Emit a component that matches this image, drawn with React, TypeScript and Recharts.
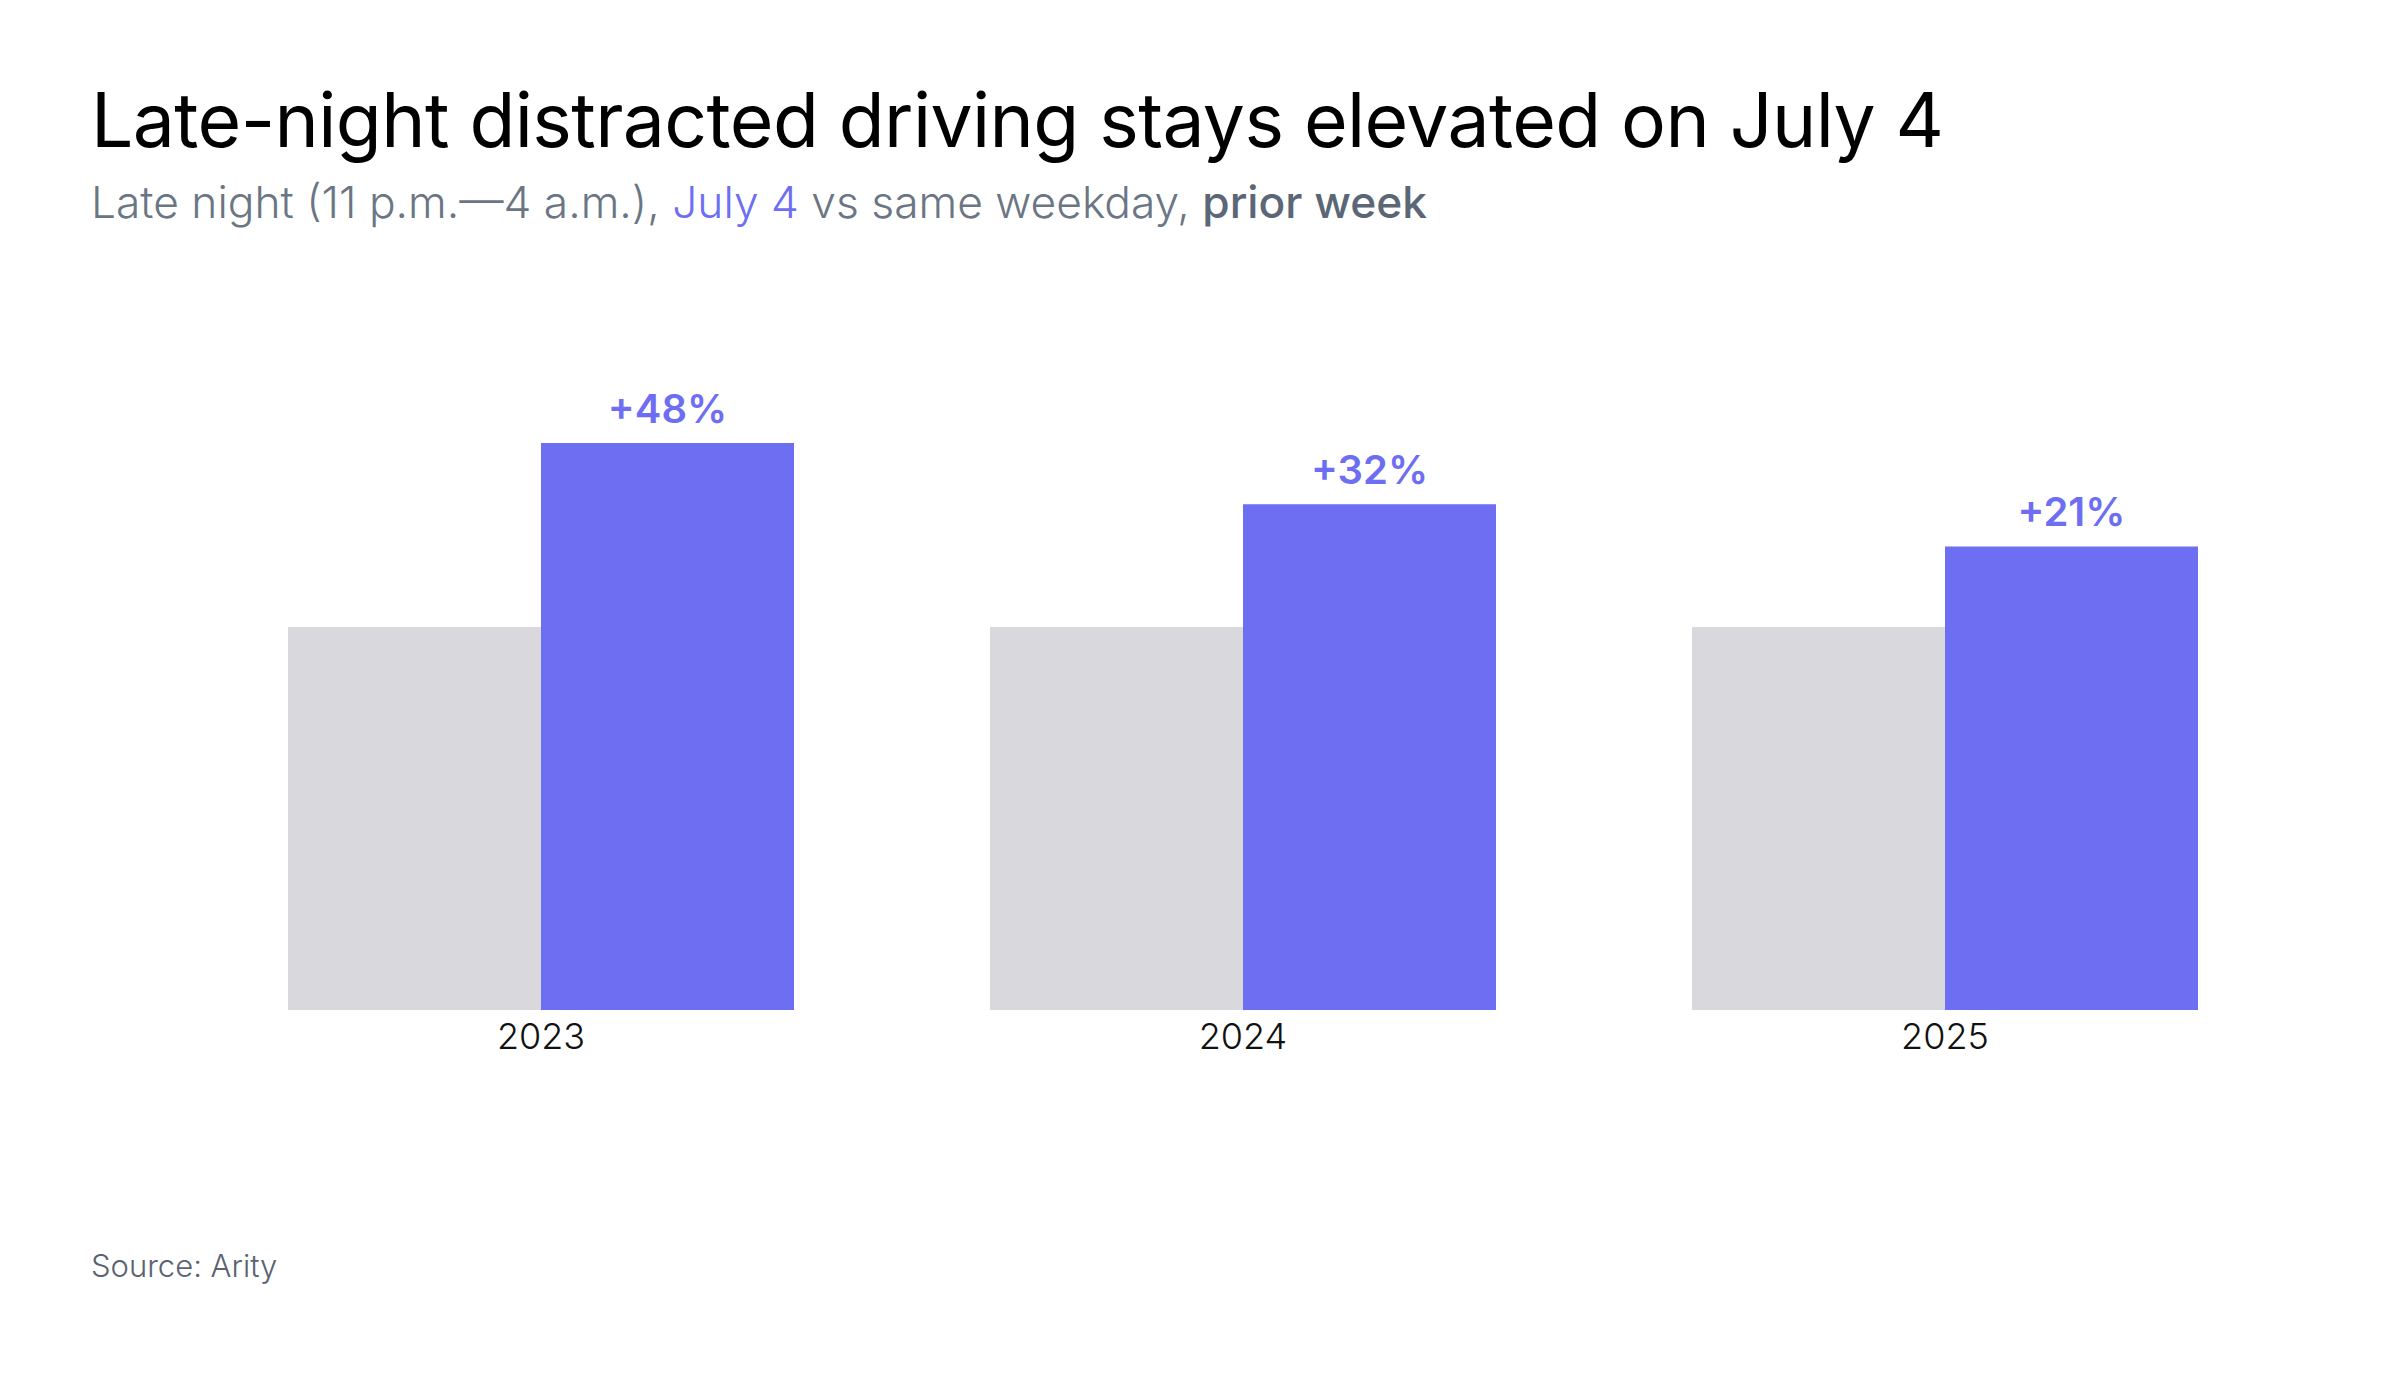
import React from "react";
import { BarChart, Bar, XAxis, YAxis, LabelList } from "recharts";

// Late-night distracted driving index: prior-week baseline = 100
const years = ["2023", "2024", "2025"];
const priorWeek = [100, 100, 100];
const july4 = [148, 132, 121];

const data = years.map((year, i) => ({ year, prior: priorWeek[i], july4: july4[i] }));

const W = 2381;
const H = 1375;
const GRAY = "#d9d8dd";
const PURPLE = "#6e6ef3";
const SUB = "#6b7684";
const FONT = "Inter, 'Noto Sans', sans-serif";

const YearTick = (props: any) => {
  const { x, y, payload } = props;
  return (
    <text x={x} y={y + 39} textAnchor="middle" fill="#111" fontFamily={FONT} fontSize={36} fontWeight={350}>
      {payload.value}
    </text>
  );
};

const ChangeLabel = (props: any) => {
  const { x, y, width, value } = props;
  const pct = Math.round(Number(value) - 100);
  return (
    <text x={x + width / 2} y={y - 20} textAnchor="middle" fill={PURPLE} fontFamily={FONT} fontSize={40} fontWeight={600}>
      {`+${pct}%`}
    </text>
  );
};

export default function App() {
  return (
    <div style={{ position: "absolute", left: 0, top: 0, width: W, height: H, background: "#fff", overflow: "hidden" }}>
      <svg width={W} height={H} style={{ position: "absolute", left: 0, top: 0 }}>
        <text x={91} y={147} fontFamily={FONT} fontSize={75} fontWeight={400} letterSpacing={-0.6} fill="#000">
          Late-night distracted driving stays elevated on July 4
        </text>
        <text x={91} y={218} fontFamily={FONT} fontSize={44.3} fontWeight={350} fill={SUB}>
          Late night (11 p.m.—4 a.m.), <tspan fill={PURPLE}>July 4</tspan> vs same weekday,{" "}
          <tspan fill="#5b6777" fontWeight={500}>prior week</tspan>
        </text>
        <text x={91} y={1277} fontFamily={FONT} fontSize={31} fontWeight={350} fill="#5b6272">
          Source: Arity
        </text>
      </svg>
      <div style={{ position: "absolute", left: 0, top: 0 }}>
        <BarChart width={W} height={H} data={data} margin={{ top: 397, right: 85, bottom: 305, left: 190 }} barGap={0} barSize={253}>
          <XAxis dataKey="year" axisLine={false} tickLine={false} tickSize={0} tickMargin={0} height={60} tick={<YearTick />} interval={0} />
          <YAxis hide domain={[0, 160]} />
          <Bar dataKey="prior" fill={GRAY} isAnimationActive={false} />
          <Bar dataKey="july4" fill={PURPLE} isAnimationActive={false}>
            <LabelList dataKey="july4" content={<ChangeLabel />} />
          </Bar>
        </BarChart>
      </div>
    </div>
  );
}
